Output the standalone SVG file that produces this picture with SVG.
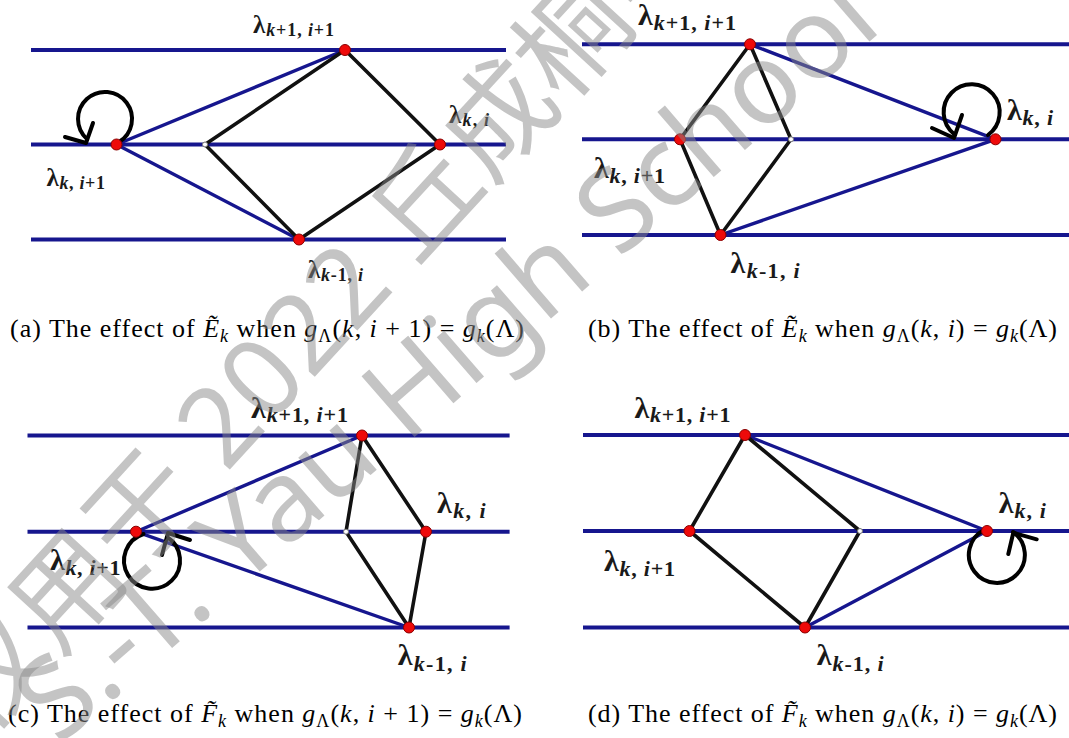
<svg xmlns="http://www.w3.org/2000/svg" width="1069" height="738" viewBox="0 0 1069 738">
<style>
.h{stroke:#16168e;stroke-width:4;fill:none}
.b{stroke:#16168e;stroke-width:3.4;fill:none;stroke-linecap:round}
.k{stroke:#111;stroke-width:3.6;fill:none;stroke-linecap:round}
.lp{stroke:#000;stroke-width:4;fill:none;stroke-linecap:round;stroke-linejoin:round}
.rd{fill:#ee0a0a;stroke:#8a0000;stroke-width:1}
.wt{fill:#fff;stroke:#777;stroke-width:1}
.lb{font-family:"Liberation Serif","DejaVu Serif",serif;font-weight:bold;fill:#1a1a1a}
.s{font-style:italic}
.cap{font-family:"Liberation Serif","DejaVu Serif",serif;font-size:26px;fill:#000}
.it{font-style:italic}
.wm{font-family:"Noto Sans","Noto Sans CJK SC",sans-serif;font-weight:400;fill:#8a8a8a;opacity:0.5}
</style>

<!-- Panel (a) -->
<g id="conn-a">
<line class="h" x1="31" y1="50" x2="506" y2="50"/>
<line class="h" x1="31" y1="144.5" x2="506" y2="144.5"/>
<line class="h" x1="31" y1="239.5" x2="506" y2="239.5"/>
<line class="b" x1="116.5" y1="144.5" x2="345" y2="50"/>
<line class="b" x1="116.5" y1="144.5" x2="299" y2="239.5"/>
<line class="k" x1="205" y1="144.5" x2="345" y2="50"/>
<line class="k" x1="345" y1="50" x2="440" y2="144.5"/>
<line class="k" x1="440" y1="144.5" x2="299" y2="239.5"/>
<line class="k" x1="299" y1="239.5" x2="205" y2="144.5"/>
<path class="lp" d="M119 142 A27 27 0 1 0 87 139"/>
<polyline class="lp" points="65,137 86,143 93,123"/>
</g>
<g id="a-top"><circle class="rd" cx="345" cy="50" r="5.5"/><text class="lb" x="253" y="33" textLength="81"><tspan font-size="25">λ</tspan><tspan font-size="18" dy="3"><tspan class="s">k</tspan>+1, <tspan class="s">i</tspan>+1</tspan></text></g>
<g id="a-right"><circle class="rd" cx="440" cy="144.5" r="5.5"/><text class="lb" x="449" y="123" textLength="40"><tspan font-size="25">λ</tspan><tspan font-size="18" dy="3"><tspan class="s">k</tspan>, <tspan class="s">i</tspan></tspan></text></g>
<g id="a-left"><circle class="rd" cx="116.5" cy="144.5" r="5.5"/><text class="lb" x="46.5" y="186" textLength="58.5"><tspan font-size="25">λ</tspan><tspan font-size="18" dy="3"><tspan class="s">k</tspan>, <tspan class="s">i</tspan>+1</tspan></text></g>
<g id="a-bottom"><circle class="rd" cx="299" cy="239.5" r="5.5"/><text class="lb" x="308" y="278" textLength="55"><tspan font-size="25">λ</tspan><tspan font-size="18" dy="3"><tspan class="s">k</tspan>-1, <tspan class="s">i</tspan></tspan></text></g>
<g id="a-mid"><circle class="wt" cx="205" cy="144.5" r="2.5"/></g>
<g id="cap-a"><text class="cap" x="10" y="337" textLength="514">(a)  The effect of <tspan class="it">Ẽ</tspan><tspan class="it" font-size="18" dy="5">k</tspan><tspan dy="-5"> when </tspan><tspan class="it">g</tspan><tspan font-size="18" dy="5">Λ</tspan><tspan dy="-5">(</tspan><tspan class="it">k</tspan>, <tspan class="it">i</tspan> + 1) = <tspan class="it">g</tspan><tspan class="it" font-size="18" dy="5">k</tspan><tspan dy="-5">(Λ)</tspan></text></g>

<!-- Panel (b) -->
<g id="conn-b">
<line class="h" x1="582" y1="44.3" x2="1069" y2="44.3"/>
<line class="h" x1="582" y1="139.3" x2="1069" y2="139.3"/>
<line class="h" x1="582" y1="235" x2="1069" y2="235"/>
<line class="b" x1="750" y1="44.3" x2="995.5" y2="139.3"/>
<line class="b" x1="720.5" y1="235" x2="995.5" y2="139.3"/>
<line class="k" x1="680" y1="139.3" x2="750" y2="44.3"/>
<line class="k" x1="750" y1="44.3" x2="791" y2="139.3"/>
<line class="k" x1="791" y1="139.3" x2="720.5" y2="235"/>
<line class="k" x1="720.5" y1="235" x2="680" y2="139.3"/>
<path class="lp" d="M988 135 A28 28 0 1 0 954 134"/>
<polyline class="lp" points="932,128 954,138 962,115"/>
</g>
<g id="b-top"><circle class="rd" cx="750" cy="44.3" r="5.5"/><text class="lb" x="638" y="25" textLength="98"><tspan font-size="30">λ</tspan><tspan font-size="22" dy="5"><tspan class="s">k</tspan>+1, <tspan class="s">i</tspan>+1</tspan></text></g>
<g id="b-right"><circle class="rd" cx="995.5" cy="139.3" r="5.5"/><text class="lb" x="1007" y="120" textLength="46"><tspan font-size="30">λ</tspan><tspan font-size="22" dy="5"><tspan class="s">k</tspan>, <tspan class="s">i</tspan></tspan></text></g>
<g id="b-left"><circle class="rd" cx="680" cy="139.3" r="5.5"/><text class="lb" x="594" y="178" textLength="71"><tspan font-size="30">λ</tspan><tspan font-size="22" dy="5"><tspan class="s">k</tspan>, <tspan class="s">i</tspan>+1</tspan></text></g>
<g id="b-bottom"><circle class="rd" cx="720.5" cy="235" r="5.5"/><text class="lb" x="730.6" y="273" textLength="69"><tspan font-size="30">λ</tspan><tspan font-size="22" dy="5"><tspan class="s">k</tspan>-1, <tspan class="s">i</tspan></tspan></text></g>
<g id="b-mid"><circle class="wt" cx="791" cy="139.3" r="2.5"/></g>
<g id="cap-b"><text class="cap" x="588" y="337" textLength="469">(b)  The effect of <tspan class="it">Ẽ</tspan><tspan class="it" font-size="18" dy="5">k</tspan><tspan dy="-5"> when </tspan><tspan class="it">g</tspan><tspan font-size="18" dy="5">Λ</tspan><tspan dy="-5">(</tspan><tspan class="it">k</tspan>, <tspan class="it">i</tspan>) = <tspan class="it">g</tspan><tspan class="it" font-size="18" dy="5">k</tspan><tspan dy="-5">(Λ)</tspan></text></g>

<!-- Panel (c) -->
<g id="conn-c">
<line class="h" x1="27.5" y1="435.5" x2="509.6" y2="435.5"/>
<line class="h" x1="27.5" y1="531.7" x2="509.6" y2="531.7"/>
<line class="h" x1="27.5" y1="627.5" x2="509.6" y2="627.5"/>
<line class="b" x1="136" y1="531.7" x2="362" y2="435.5"/>
<line class="b" x1="136" y1="531.7" x2="409" y2="627.5"/>
<line class="k" x1="362" y1="435.5" x2="346" y2="531.7"/>
<line class="k" x1="362" y1="435.5" x2="426" y2="531.7"/>
<line class="k" x1="426" y1="531.7" x2="409" y2="627.5"/>
<line class="k" x1="346" y1="531.7" x2="409" y2="627.5"/>
<path class="lp" d="M143.5 534 A28 28 0 1 0 167 537"/>
<polyline class="lp" points="190,540 168,533 162,555"/>
</g>
<g id="c-top"><circle class="rd" cx="362" cy="435.5" r="5.5"/><text class="lb" x="251" y="418" textLength="97"><tspan font-size="30">λ</tspan><tspan font-size="22" dy="4"><tspan class="s">k</tspan>+1, <tspan class="s">i</tspan>+1</tspan></text></g>
<g id="c-right"><circle class="rd" cx="426" cy="531.7" r="5.5"/><text class="lb" x="437" y="513" textLength="48.5"><tspan font-size="30">λ</tspan><tspan font-size="22" dy="5"><tspan class="s">k</tspan>, <tspan class="s">i</tspan></tspan></text></g>
<g id="c-left"><circle class="rd" cx="136" cy="531.7" r="5.5"/><text class="lb" x="50" y="570" textLength="70.5"><tspan font-size="30">λ</tspan><tspan font-size="22" dy="5"><tspan class="s">k</tspan>, <tspan class="s">i</tspan>+1</tspan></text></g>
<g id="c-bottom"><circle class="rd" cx="409" cy="627.5" r="5.5"/><text class="lb" x="397.7" y="665" textLength="69"><tspan font-size="30">λ</tspan><tspan font-size="22" dy="6"><tspan class="s">k</tspan>-1, <tspan class="s">i</tspan></tspan></text></g>
<g id="c-mid"><circle class="wt" cx="346" cy="531.7" r="2.5"/></g>
<g id="cap-c"><text class="cap" x="8" y="722" textLength="514">(c)  The effect of <tspan class="it">F̃</tspan><tspan class="it" font-size="18" dy="5">k</tspan><tspan dy="-5"> when </tspan><tspan class="it">g</tspan><tspan font-size="18" dy="5">Λ</tspan><tspan dy="-5">(</tspan><tspan class="it">k</tspan>, <tspan class="it">i</tspan> + 1) = <tspan class="it">g</tspan><tspan class="it" font-size="18" dy="5">k</tspan><tspan dy="-5">(Λ)</tspan></text></g>

<!-- Panel (d) -->
<g id="conn-d">
<line class="h" x1="583" y1="435" x2="1069" y2="435"/>
<line class="h" x1="583" y1="531" x2="1069" y2="531"/>
<line class="h" x1="583" y1="627.5" x2="1069" y2="627.5"/>
<line class="b" x1="745" y1="435" x2="987" y2="531"/>
<line class="b" x1="805" y1="627.5" x2="987" y2="531"/>
<line class="k" x1="689.5" y1="531" x2="745" y2="435"/>
<line class="k" x1="745" y1="435" x2="860" y2="531"/>
<line class="k" x1="860" y1="531" x2="805" y2="627.5"/>
<line class="k" x1="805" y1="627.5" x2="689.5" y2="531"/>
<path class="lp" d="M984 530 A28 28 0 1 0 1013 532"/>
<polyline class="lp" points="1036.7,539.3 1013.3,532.7 1008.3,554"/>
</g>
<g id="d-top"><circle class="rd" cx="745" cy="435" r="5.5"/><text class="lb" x="634.5" y="418" textLength="96"><tspan font-size="30">λ</tspan><tspan font-size="22" dy="4"><tspan class="s">k</tspan>+1, <tspan class="s">i</tspan>+1</tspan></text></g>
<g id="d-right"><circle class="rd" cx="987" cy="531" r="5.5"/><text class="lb" x="998.8" y="513" textLength="47"><tspan font-size="30">λ</tspan><tspan font-size="22" dy="5"><tspan class="s">k</tspan>, <tspan class="s">i</tspan></tspan></text></g>
<g id="d-left"><circle class="rd" cx="689.5" cy="531" r="5.5"/><text class="lb" x="604" y="571" textLength="71"><tspan font-size="30">λ</tspan><tspan font-size="22" dy="5"><tspan class="s">k</tspan>, <tspan class="s">i</tspan>+1</tspan></text></g>
<g id="d-bottom"><circle class="rd" cx="805" cy="627.5" r="5.5"/><text class="lb" x="816.7" y="665" textLength="67"><tspan font-size="30">λ</tspan><tspan font-size="22" dy="6"><tspan class="s">k</tspan>-1, <tspan class="s">i</tspan></tspan></text></g>
<g id="d-mid"><circle class="wt" cx="860" cy="531" r="2.5"/></g>
<g id="cap-d"><text class="cap" x="588" y="722" textLength="469">(d)  The effect of <tspan class="it">F̃</tspan><tspan class="it" font-size="18" dy="5">k</tspan><tspan dy="-5"> when </tspan><tspan class="it">g</tspan><tspan font-size="18" dy="5">Λ</tspan><tspan dy="-5">(</tspan><tspan class="it">k</tspan>, <tspan class="it">i</tspan>) = <tspan class="it">g</tspan><tspan class="it" font-size="18" dy="5">k</tspan><tspan dy="-5">(Λ)</tspan></text></g>

<!-- watermark -->
<g id="watermark">
<text class="wm" font-size="110" transform="translate(-16,738) rotate(-47.5)">仅用于 2022 丘成桐中</text>
<text class="wm" font-size="113" transform="translate(58.4,746.6) rotate(-41)">S.-T. Yau High School</text>
</g>
</svg>
